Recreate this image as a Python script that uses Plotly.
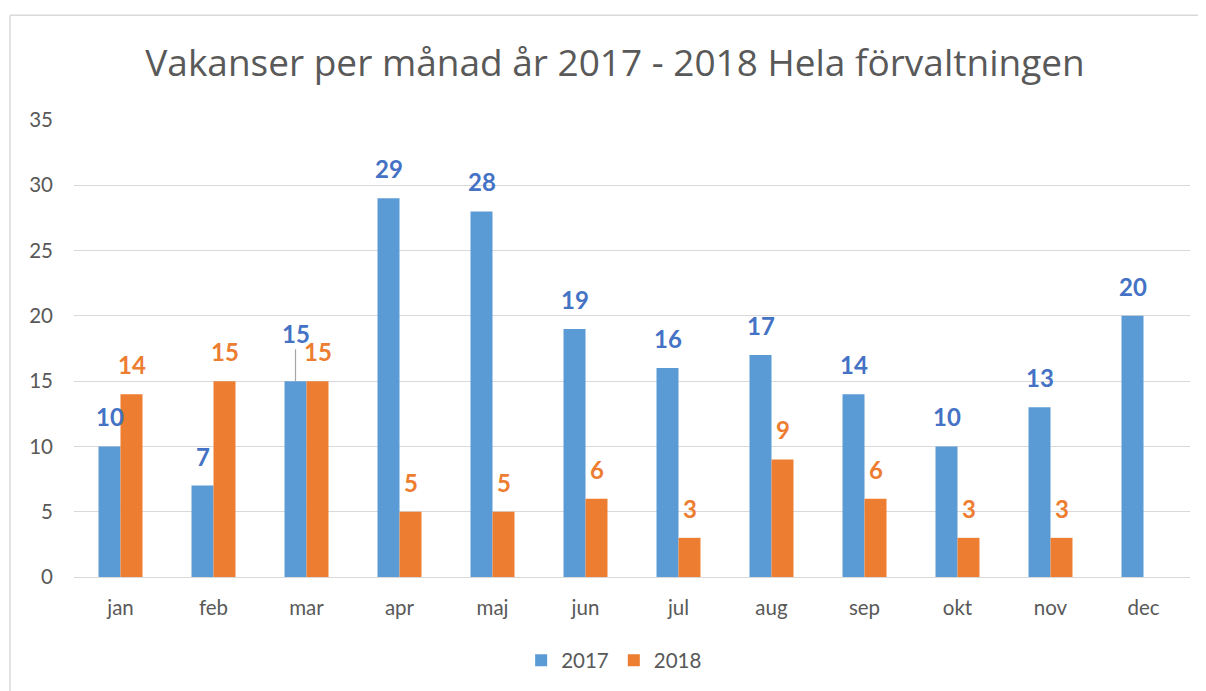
import plotly.graph_objects as go

months = ["jan", "feb", "mar", "apr", "maj", "jun", "jul", "aug", "sep", "okt", "nov", "dec"]
v2017 = [10, 7, 15, 29, 28, 19, 16, 17, 14, 10, 13, 20]
v2018 = [14, 15, 15, 5, 5, 6, 3, 9, 6, 3, 3, None]
title_text = "Vakanser per månad år 2017 - 2018 Hela förvaltningen"
yticks = [0, 5, 10, 15, 20, 25, 30, 35]

C17 = "#5B9BD5"
C18 = "#ED7D31"
L17 = "#4472C4"
GRID = "#D9D9D9"
TXT = "#595959"
FONT = "Lato"

fig = go.Figure()
fig.add_trace(go.Bar(name="2017", x=months, y=v2017, marker_color=C17, marker_line_width=0))
fig.add_trace(go.Bar(name="2018", x=months, y=v2018, marker_color=C18, marker_line_width=0))

annotations = []
for m, v in zip(months, v2017):
    if v is None:
        continue
    if m == "mar":
        annotations.append(dict(x=m, y=v, xref="x", yref="y", text=f"<b>{v}</b>",
                                showarrow=True, arrowhead=0, arrowwidth=1.2, arrowcolor="#A6A6A6",
                                ax=0, ay=-48, xshift=-11, standoff=0,
                                font=dict(family=FONT, size=24, color=L17)))
    else:
        annotations.append(dict(x=m, y=v, xref="x", yref="y", text=f"<b>{v}</b>",
                                showarrow=False, yanchor="bottom", xshift=-11, yshift=13,
                                font=dict(family=FONT, size=24, color=L17)))
for m, v in zip(months, v2018):
    if v is None:
        continue
    annotations.append(dict(x=m, y=v, xref="x", yref="y", text=f"<b>{v}</b>",
                            showarrow=False, yanchor="bottom", xshift=11, yshift=13,
                            font=dict(family=FONT, size=24, color=C18)))

fx0 = (10 - 74) / 1116
fx1 = (1260 - 74) / 1116
fy0 = (578 - 740) / 458
fy1 = (578 - 15) / 458

W, H = 1198, 683
# page body has an 8px default margin; figure sized so plot area lands at x 74-1190, y 120-578
fig.update_layout(
    width=W, height=H,
    margin=dict(l=66, r=16, t=112, b=113),
    paper_bgcolor="white", plot_bgcolor="white",
    barmode="group", bargap=0.527, bargroupgap=0,
    title=dict(text=title_text, x=(615 - 8) / W, xanchor="center", y=(H - 55) / H, yanchor="middle",
               font=dict(family="Open Sans", size=37, color=TXT)),
    font=dict(family=FONT, size=20.5, color=TXT),
    showlegend=True,
    legend=dict(orientation="h", x=0.484, xanchor="center", y=-0.18, yanchor="middle",
                font=dict(family=FONT, size=20.5, color=TXT)),
    annotations=annotations,
    shapes=[
        dict(type="line", xref="paper", yref="paper", x0=fx0, x1=fx1, y0=fy1, y1=fy1,
             line=dict(color=GRID, width=1.5), layer="below"),
        dict(type="line", xref="paper", yref="paper", x0=fx0, x1=fx0, y0=fy0, y1=fy1,
             line=dict(color=GRID, width=1.5), layer="below"),
    ],
)
fig.update_xaxes(showgrid=False, showline=False, ticks="", ticklabelstandoff=16,
                 tickfont=dict(family=FONT, size=20.5, color=TXT))
fig.update_yaxes(range=[0, 35], tickvals=yticks, showgrid=True, gridcolor=GRID, gridwidth=1.3,
                 zeroline=True, zerolinecolor=GRID, zerolinewidth=1.3, showline=False, ticks="",
                 ticklabelstandoff=20, tickfont=dict(family=FONT, size=20.5, color=TXT))

fig.write_html("out.html")
